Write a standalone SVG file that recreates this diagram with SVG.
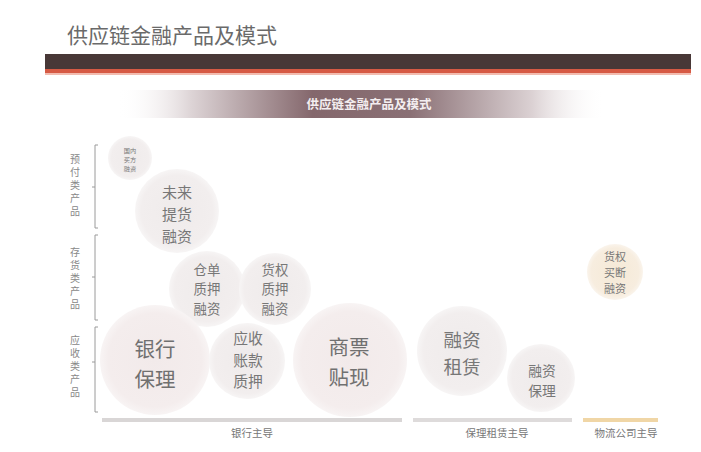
<svg xmlns="http://www.w3.org/2000/svg" width="701" height="452" viewBox="0 0 701 452">
<style>
text{font-family:"Noto Sans CJK SC","Noto Sans",sans-serif;text-anchor:middle}
.ct{fill:#777}
.lbl{fill:#888;font-size:10px;writing-mode:vertical-rl;text-orientation:upright;letter-spacing:3px}
.ax{fill:#777;font-size:10.5px}
.br{fill:none;stroke:#9a9a9a;stroke-width:1}
</style>
<defs>
<linearGradient id="sub" x1="0" y1="0" x2="1" y2="0">
<stop offset="0" stop-color="#ffffff" stop-opacity="0"/>
<stop offset="0.15" stop-color="#ddd4d6"/>
<stop offset="0.4" stop-color="#84676c"/>
<stop offset="0.6" stop-color="#8a7075"/>
<stop offset="0.85" stop-color="#dbd1d3"/>
<stop offset="1" stop-color="#ffffff" stop-opacity="0"/>
</linearGradient>
<radialGradient id="cg">
<stop offset="0" stop-color="#efebeb"/>
<stop offset="0.85" stop-color="#f2eeee"/>
<stop offset="1" stop-color="#f7f5f5"/>
</radialGradient>
<radialGradient id="cp">
<stop offset="0" stop-color="#f2eaea"/>
<stop offset="0.85" stop-color="#f4eded"/>
<stop offset="1" stop-color="#f8f4f4"/>
</radialGradient>
<radialGradient id="ct">
<stop offset="0" stop-color="#f5e9d6"/>
<stop offset="0.85" stop-color="#f7eddf"/>
<stop offset="1" stop-color="#faf4ec"/>
</radialGradient>
</defs>
<rect width="701" height="452" fill="#ffffff"/>
<g id="title">
<text x="67" y="43" style="text-anchor:start;font-size:21px;fill:#6a6a6a">供应链金融产品及模式</text>
</g>
<g id="band">
<rect x="45" y="54" width="646" height="15" fill="#483837"/>
<rect x="45" y="69" width="646" height="4" fill="#d65a44"/>
<rect x="45" y="73" width="646" height="2" fill="#f2bcb0"/>
</g>
<g id="subtitle">
<rect x="118" y="90" width="487" height="28" fill="url(#sub)"/>
<text x="369" y="109" style="font-size:12.5px;font-weight:bold;fill:#f4eef0">供应链金融产品及模式</text>
</g>
<g id="connectors">
<path class="br" d="M98 145 H95 V228 H98 M95 187 H92"/>
<path class="br" d="M98 235 H95 V320 H98 M95 277 H92"/>
<path class="br" d="M98 327 H95 V412 H98 M95 362 H92"/>
<rect x="102" y="418" width="300" height="4" fill="#d9d6d6"/>
<rect x="413" y="418" width="159" height="4" fill="#dedbdb"/>
<rect x="583" y="418" width="75" height="4" fill="#f0d6a6"/>
</g>
<g id="row-labels">
<text class="lbl" x="75" y="187">预付类产品</text>
<text class="lbl" x="75" y="280">存货类产品</text>
<text class="lbl" x="75" y="368">应收类产品</text>
</g>
<g id="axis-labels">
<text class="ax" x="252" y="437">银行主导</text>
<text class="ax" x="497" y="437">保理租赁主导</text>
<text class="ax" x="626" y="437">物流公司主导</text>
</g>
<g id="node-gnmf">
<circle cx="130" cy="158" r="22" fill="url(#cg)"/>
<text class="ct" style="font-size:6.2px"><tspan x="130" y="153">国内</tspan><tspan x="130" y="162">买方</tspan><tspan x="130" y="171">融资</tspan></text>
</g>
<g id="node-wlth">
<circle cx="177" cy="211" r="42" fill="url(#cg)"/>
<text class="ct" style="font-size:15px"><tspan x="177" y="197.7">未来</tspan><tspan x="177" y="219.7">提货</tspan><tspan x="177" y="241.7">融资</tspan></text>
</g>
<g id="node-cdzy">
<circle cx="207" cy="289" r="38" fill="url(#cg)"/>
<text class="ct" style="font-size:13.4px"><tspan x="207" y="274.6">仓单</tspan><tspan x="207" y="294.1">质押</tspan><tspan x="207" y="313.6">融资</tspan></text>
</g>
<g id="node-hqzy">
<circle cx="275" cy="289" r="36" fill="url(#cg)"/>
<text class="ct" style="font-size:13.4px"><tspan x="275" y="274.6">货权</tspan><tspan x="275" y="294.1">质押</tspan><tspan x="275" y="313.6">融资</tspan></text>
</g>
<g id="node-yhbl">
<circle cx="155" cy="360" r="55" fill="url(#cp)"/>
<text class="ct" style="font-size:20.5px;fill:#707070"><tspan x="155" y="357">银行</tspan><tspan x="155" y="387">保理</tspan></text>
</g>
<g id="node-yszk">
<circle cx="247" cy="361" r="38" fill="url(#cg)"/>
<text class="ct" style="font-size:14.8px"><tspan x="248" y="344">应收</tspan><tspan x="248" y="365.6">账款</tspan><tspan x="248" y="387">质押</tspan></text>
</g>
<g id="node-sptx">
<circle cx="350" cy="360" r="57" fill="url(#cp)"/>
<text class="ct" style="font-size:20.5px;fill:#707070"><tspan x="349" y="355">商票</tspan><tspan x="349" y="385">贴现</tspan></text>
</g>
<g id="node-rzzl">
<circle cx="462" cy="351" r="45" fill="url(#cg)"/>
<text class="ct" style="font-size:18.6px"><tspan x="462" y="346.5">融资</tspan><tspan x="462" y="373.5">租赁</tspan></text>
</g>
<g id="node-rzbl">
<circle cx="541" cy="378" r="34" fill="url(#cg)"/>
<text class="ct" style="font-size:13.8px"><tspan x="542" y="375.7">融资</tspan><tspan x="542" y="395.7">保理</tspan></text>
</g>
<g id="node-hqmd">
<circle cx="615" cy="272" r="28" fill="url(#ct)"/>
<text class="ct" style="font-size:11px"><tspan x="615" y="261">货权</tspan><tspan x="615" y="277">买断</tspan><tspan x="615" y="293">融资</tspan></text>
</g>
</svg>
